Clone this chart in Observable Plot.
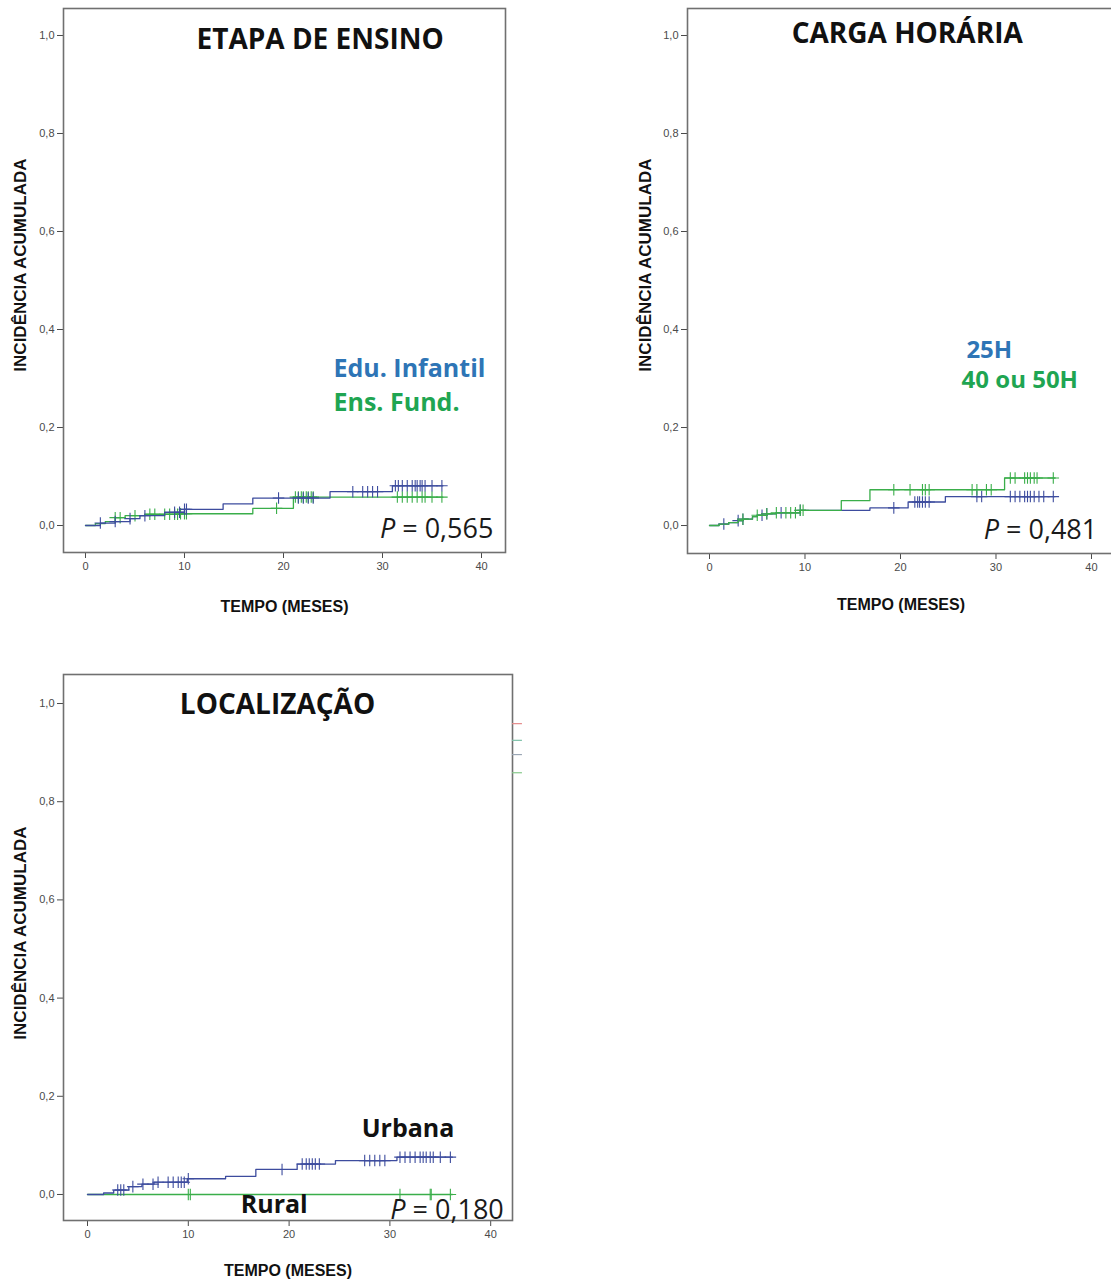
<!DOCTYPE html>
<html>
<head>
<meta charset="utf-8">
<script src="https://cdn.jsdelivr.net/npm/d3@7"></script>
<script src="https://cdn.jsdelivr.net/npm/@observablehq/plot@0.6"></script>
<style>
  html, body { margin: 0; padding: 0; background: #fff; }
  #root { position: relative; width: 1111px; height: 1284px; overflow: hidden; background: #fff; }
  .panel { position: absolute; }
  .panel svg { overflow: visible; max-width: none !important; display: block; }
</style>
</head>
<body>
<div id="root">
  <div class="panel" id="p1" style="left:0px; top:0px; width:555px;"></div>
  <div class="panel" id="p2" style="left:600px; top:0px; width:540px;"></div>
  <div class="panel" id="p3" style="left:0px; top:660px; width:560px;"></div>
</div>
<script>
// ---------- Data ----------
const xTicks = [0, 10, 20, 30, 40];
const yTicks = [0, 0.2, 0.4, 0.6, 0.8, 1.0];
const xLabel = "TEMPO (MESES)";
const yLabel = "INCIDÊNCIA ACUMULADA";

// Panel 1: ETAPA DE ENSINO
const p1Title = "ETAPA DE ENSINO";
const p1Groups = ["Edu. Infantil", "Ens. Fund."];
const p1P = "P = 0,565";
const p1BlueT = [0, 1.5, 3.0, 4.5, 5.5, 8.0, 10.0, 13.9, 16.9, 24.7, 31.0, 36.1];
const p1BlueV = [0, 0.005, 0.008, 0.014, 0.020, 0.027, 0.033, 0.044, 0.056, 0.069, 0.081, 0.081];
const p1BlueCens = [1.5, 3, 4.5, 6, 9, 9.5, 10, 10.2, 19.5, 21.5, 22, 22.5, 23, 27, 28, 28.5, 29, 29.5, 31.3, 31.6, 32, 32.5, 33, 33.3, 33.5, 33.8, 34, 34.3, 35, 36];
const p1GreenT = [0, 1.0, 2.0, 3.0, 4.0, 6.0, 9.5, 16.9, 21.0, 36.1];
const p1GreenV = [0, 0.004, 0.008, 0.016, 0.020, 0.023, 0.024, 0.035, 0.058, 0.058];
const p1GreenCens = [3, 3.5, 5, 6.5, 7, 8, 8.5, 9, 9.3, 9.6, 10, 10.2, 19.3, 21.2, 21.5, 21.8, 22, 22.3, 22.5, 22.8, 23, 31.5, 32, 32.5, 33, 33.5, 34, 34.3, 35, 36];

// Panel 2: CARGA HORÁRIA
const p2Title = "CARGA HORÁRIA";
const p2Groups = ["25H", "40 ou 50H"];
const p2P = "P = 0,481";
const p2BlueT = [0, 1, 2, 3, 3.5, 4.5, 5, 6, 7, 9.5, 16.8, 20.8, 24.7, 36.2];
const p2BlueV = [0, 0.003, 0.006, 0.010, 0.013, 0.018, 0.021, 0.024, 0.026, 0.031, 0.036, 0.048, 0.059, 0.059];
const p2BlueCens = [1.5, 3, 3.5, 5.5, 6, 7.5, 9.5, 19.3, 21.5, 21.8, 22, 22.3, 22.6, 23, 28, 28.5, 31.5, 32, 32.5, 33, 33.3, 33.6, 34, 34.5, 35, 36];
const p2GreenT = [0, 1, 2, 3, 3.5, 4.5, 5, 6, 7, 9.5, 13.8, 16.8, 30.9, 36.2];
const p2GreenV = [0, 0.003, 0.006, 0.010, 0.013, 0.018, 0.021, 0.024, 0.026, 0.031, 0.051, 0.073, 0.097, 0.097];
const p2GreenCens = [3.5, 5, 6, 7, 8, 8.5, 9, 9.5, 9.8, 19.3, 21, 22.3, 22.6, 23, 27.5, 28, 29, 29.5, 31.5, 32, 33, 33.3, 33.6, 34, 34.3, 36];

// Panel 3: LOCALIZAÇÃO
const p3Title = "LOCALIZAÇÃO";
const p3Groups = ["Urbana", "Rural"];
const p3P = "P = 0,180";
const p3UrbT = [0, 1.6, 2.6, 4.1, 5.4, 6.6, 9.9, 13.7, 16.7, 20.8, 24.6, 30.7, 36.2];
const p3UrbV = [0, 0.003, 0.009, 0.016, 0.021, 0.025, 0.032, 0.037, 0.051, 0.062, 0.069, 0.076, 0.076];
const p3UrbCens = [3, 3.3, 3.6, 4.5, 5.5, 6.5, 7, 8, 8.5, 9, 9.3, 9.6, 10, 19.3, 21.3, 21.7, 22, 22.3, 22.6, 23, 27.5, 28, 28.5, 29, 29.5, 31, 31.5, 32, 32.5, 33, 33.3, 33.6, 34, 34.3, 35, 36];
const p3RurT = [0, 36.2];
const p3RurV = [0, 0];
const p3RurCens = [10, 10.2, 31, 34, 34.1, 36];
// stray legend ticks to the right of panel 3
const p3StrayY = [0.959, 0.925, 0.896, 0.859];
const p3StrayC = ["#e58a8a", "#7cc0a8", "#9aa6b4", "#86c98a"];

// ---------- Helpers ----------
const curveBlue = "#3d4c9e";
const curveGreen = "#3aae4a";
const labelBlue = "#2e75b6";
const labelGreen = "#1fa552";
const textFont = "'Open Sans', Lato, sans-serif";
const axisFont = "'Liberation Sans', Arial, sans-serif";

function stepAt(T, V, t) {
  let v = V[0];
  for (let i = 0; i < T.length; i++) if (T[i] <= t) v = V[i];
  return v;
}
function rows(T, V) { return T.map((t, i) => ({t, v: V[i]})); }
function cens(T, V, C) { return C.map(t => ({t, v: stepAt(T, V, t)})); }
const fmtY = d => d.toFixed(1).replace(".", ",");

function survMarks(T, V, C, color) {
  return [
    Plot.line(rows(T, V), {x: "t", y: "v", curve: "step-after", stroke: color, strokeWidth: 1.3}),
    Plot.dot(cens(T, V, C), {x: "t", y: "v", symbol: "plus", r: 3.8, stroke: color, strokeWidth: 1.1})
  ];
}

function basePanel(o) {
  return Plot.plot({
    width: o.width, height: o.height,
    marginLeft: o.ml, marginRight: o.mr, marginTop: o.mt, marginBottom: o.mb,
    style: {fontFamily: axisFont, background: "transparent", overflow: "visible"},
    x: {domain: o.xd}, y: {domain: o.yd},
    marks: [
      Plot.axisY({ticks: yTicks, tickFormat: fmtY, tickSize: 6, tickPadding: 3, fontSize: 11, color: "#4a4a4a", label: null}),
      Plot.axisX({ticks: xTicks, tickFormat: d => String(d), tickSize: 6, tickPadding: 4, fontSize: 11, color: "#4a4a4a", label: null}),
      Plot.frame({stroke: "#707070", strokeWidth: 1.6}),
      Plot.text([yLabel], {frameAnchor: "top-left", dx: o.ylx, dy: o.yly, rotate: -90, textAnchor: "end", fontFamily: axisFont, fontWeight: "bold", fontSize: 17, fill: "#111", text: d => d, lineAnchor: "middle"}),
      Plot.text([xLabel], {frameAnchor: "bottom", dy: o.xly, textAnchor: "middle", fontFamily: axisFont, fontWeight: "bold", fontSize: 16, fill: "#111", text: d => d, lineAnchor: "middle"}),
      ...o.marks
    ]
  });
}

function italicP(svg) {
  svg.querySelectorAll("text").forEach(el => {
    const s = el.textContent;
    if (s.startsWith("P = ")) {
      el.textContent = "";
      const ns = "http://www.w3.org/2000/svg";
      const a = document.createElementNS(ns, "tspan");
      a.setAttribute("font-style", "italic");
      a.textContent = "P";
      const b = document.createElementNS(ns, "tspan");
      b.textContent = " = " + s.slice(4);
      el.appendChild(a); el.appendChild(b);
    }
  });
}

// ---------- Panel 1 ----------
const svg1 = basePanel({
  width: 555, height: 640, ml: 63, mr: 50, mt: 8, mb: 88,
  xd: [-2.222, 42.424], yd: [-0.0551, 1.0551], ylx: -43, yly: 150, xly: 54,
  marks: [
    ...survMarks(p1GreenT, p1GreenV, p1GreenCens, curveGreen),
    ...survMarks(p1BlueT, p1BlueV, p1BlueCens, curveBlue),
    Plot.text([p1Title], {x: 23.7, y: 0.99, text: d => d, fontFamily: textFont, fontWeight: "bold", fontSize: 28, fill: "#111", lineAnchor: "middle"}),
    Plot.text([p1Groups[0]], {x: 25.05, y: 0.320, text: d => d, textAnchor: "start", fontFamily: textFont, fontWeight: "bold", fontSize: 25, fill: labelBlue, lineAnchor: "middle"}),
    Plot.text([p1Groups[1]], {x: 25.05, y: 0.249, text: d => d, textAnchor: "start", fontFamily: textFont, fontWeight: "bold", fontSize: 25, fill: labelGreen, lineAnchor: "middle"}),
    Plot.text([p1P], {x: 41.2, y: -0.008, text: d => d, textAnchor: "end", fontFamily: textFont, fontSize: 27, fill: "#1a1a1a", lineAnchor: "middle"})
  ]
});
italicP(svg1);
document.getElementById("p1").appendChild(svg1);

// ---------- Panel 2 ----------
const svg2 = basePanel({
  width: 540, height: 640, ml: 87, mr: 26, mt: 8, mb: 87,
  xd: [-2.304, 42.41], yd: [-0.0571, 1.0551], ylx: -42, yly: 150, xly: 51,
  marks: [
    ...survMarks(p2BlueT, p2BlueV, p2BlueCens, curveBlue),
    ...survMarks(p2GreenT, p2GreenV, p2GreenCens, curveGreen),
    Plot.text([p2Title], {x: 20.7, y: 1.004, text: d => d, fontFamily: textFont, fontWeight: "bold", fontSize: 28, fill: "#111", lineAnchor: "middle"}),
    Plot.text([p2Groups[0]], {x: 26.9, y: 0.358, text: d => d, textAnchor: "start", fontFamily: textFont, fontWeight: "bold", fontSize: 24, fill: labelBlue, lineAnchor: "middle"}),
    Plot.text([p2Groups[1]], {x: 26.4, y: 0.297, text: d => d, textAnchor: "start", fontFamily: textFont, fontWeight: "bold", fontSize: 24, fill: labelGreen, lineAnchor: "middle"}),
    Plot.text([p2P], {x: 40.6, y: -0.010, text: d => d, textAnchor: "end", fontFamily: textFont, fontSize: 27, fill: "#1a1a1a", lineAnchor: "middle"})
  ]
});
italicP(svg2);
document.getElementById("p2").appendChild(svg2);

// ---------- Panel 3 ----------
const svg3 = basePanel({
  width: 560, height: 624, ml: 63, mr: 48, mt: 14, mb: 64,
  xd: [-2.381, 42.163], yd: [-0.0530, 1.0591], ylx: -43, yly: 152, xly: 50,
  marks: [
    ...survMarks(p3RurT, p3RurV, p3RurCens, curveGreen),
    ...survMarks(p3UrbT, p3UrbV, p3UrbCens, curveBlue),
    Plot.ruleY(p3StrayY.map((y, i) => ({y, c: p3StrayC[i]})), {y: "y", x1: 42.163, x2: 43.15, stroke: "c", strokeWidth: 1.2, clip: false}),
    Plot.text([p3Title], {x: 18.85, y: 0.996, text: d => d, fontFamily: textFont, fontWeight: "bold", fontSize: 28, fill: "#111", lineAnchor: "middle"}),
    Plot.text([p3Groups[0]], {x: 27.2, y: 0.134, text: d => d, textAnchor: "start", fontFamily: textFont, fontWeight: "bold", fontSize: 25, fill: "#111", lineAnchor: "middle"}),
    Plot.text([p3Groups[1]], {x: 15.2, y: -0.022, text: d => d, textAnchor: "start", fontFamily: textFont, fontWeight: "bold", fontSize: 25, fill: "#111", lineAnchor: "middle"}),
    Plot.text([p3P], {x: 41.3, y: -0.033, text: d => d, textAnchor: "end", fontFamily: textFont, fontSize: 27, fill: "#1a1a1a", lineAnchor: "middle"})
  ]
});
italicP(svg3);
document.getElementById("p3").appendChild(svg3);
</script>
</body>
</html>
